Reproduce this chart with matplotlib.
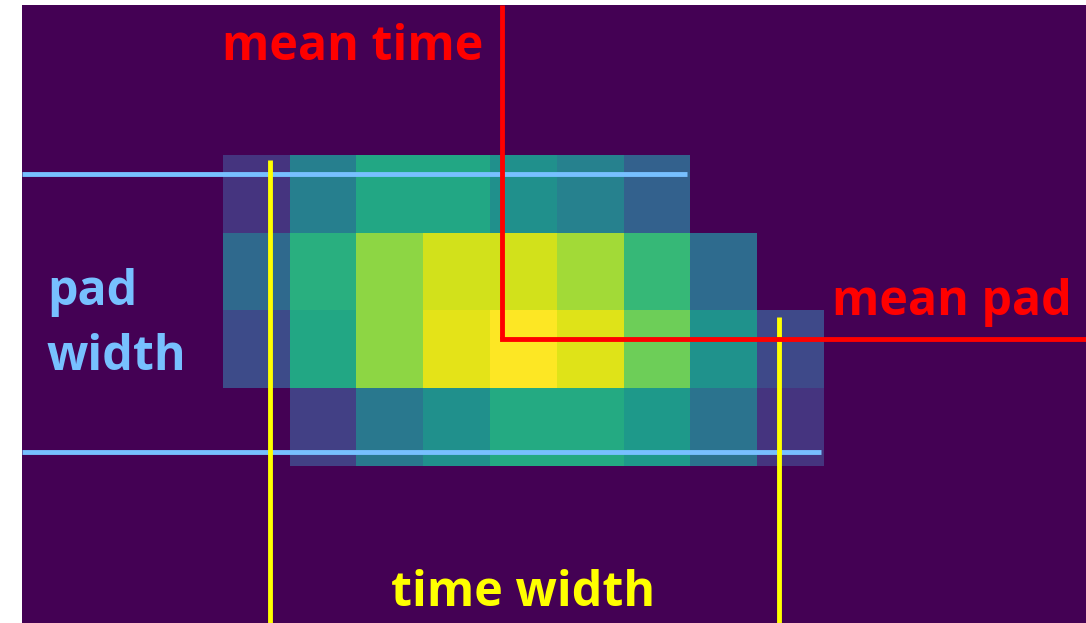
import numpy as np
import matplotlib.pyplot as plt

# charge per pad (rows) and time bin (columns), normalised to the peak
charge = [
    [0.15, 0.43, 0.60, 0.60, 0.50, 0.44, 0.31, 0.00, 0.00],
    [0.34, 0.63, 0.83, 0.93, 0.93, 0.86, 0.67, 0.35, 0.00],
    [0.23, 0.60, 0.83, 0.96, 1.00, 0.95, 0.78, 0.51, 0.22],
    [0.00, 0.19, 0.40, 0.50, 0.61, 0.61, 0.54, 0.38, 0.15],
]

# cluster moments, in bin units
mean_time = 3.67
mean_pad = 1.87
time_lo, time_hi = 0.20, 7.83
pad_lo, pad_hi = -0.25, 3.32

RED = '#ff0000'
BLUE = '#77c0ff'
YELLOW = '#ffff00'
LW = 3.5

plt.rcParams['font.family'] = ['Open Sans', 'DejaVu Sans']

fig = plt.figure(figsize=(10.86, 6.23), dpi=100, facecolor='white')
ax = fig.add_axes([22 / 1086, 0, 1064 / 1086, 618 / 623])

grid = np.pad(np.array(charge), ((3, 3), (4, 4)))
nrow, ncol = grid.shape
ax.imshow(grid, cmap='viridis', vmin=0, vmax=1, interpolation='nearest',
          extent=(-4.5, ncol - 4.5, nrow - 3.5, -3.5), aspect='auto')

x0, x1 = -3.509, 12.42
y1, y0 = 5.519, -2.429
ax.set_xlim(x0, x1)
ax.set_ylim(y1, y0)
ax.set_axis_off()

# pad width
ax.plot([x0, 6.45], [pad_lo, pad_lo], color=BLUE, lw=LW, solid_capstyle='butt')
ax.plot([x0, 8.45], [pad_hi, pad_hi], color=BLUE, lw=LW, solid_capstyle='butt')
# time width
ax.plot([time_lo, time_lo], [-0.44, y1], color=YELLOW, lw=LW, solid_capstyle='butt')
ax.plot([time_hi, time_hi], [1.58, y1], color=YELLOW, lw=LW, solid_capstyle='butt')
# means
ax.plot([mean_time, mean_time], [y0, mean_pad], color=RED, lw=LW, solid_capstyle='butt')
ax.plot([mean_time, x1], [mean_pad, mean_pad], color=RED, lw=LW, solid_capstyle='projecting')

def label(x, y, s, color, ha='left'):
    fig.text(x / 1086, 1 - y / 623, s, color=color, fontsize=34.8,
             fontweight='bold', ha=ha, va='baseline')

label(353, 60, 'mean time', RED, ha='center')
label(832, 315, 'mean pad', RED)
label(47, 305, 'pad', BLUE)
label(47, 370, 'width', BLUE)
label(523, 606, 'time width', YELLOW, ha='center')

fig.savefig('out.png', dpi=100, facecolor='white')
